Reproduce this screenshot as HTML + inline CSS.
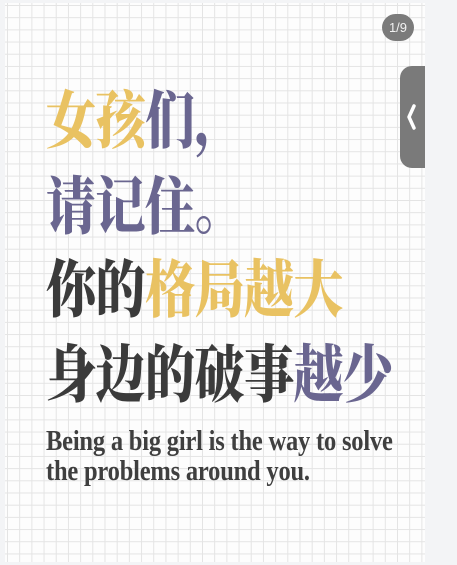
<!DOCTYPE html>
<html><head><meta charset="utf-8"><style>
html,body{margin:0;padding:0;width:457px;height:565px;overflow:hidden;background:#f3f4f6;}
#card{position:absolute;left:5px;top:3px;width:420px;height:559px;background-color:#fdfdfd;
background-image:linear-gradient(#e4e4e4 1px,transparent 1px),linear-gradient(90deg,#e4e4e4 1px,transparent 1px);
background-size:12.2px 12.2px;background-position:2px 2px;}
.l{position:absolute;left:41px;font-family:"Liberation Serif","Noto Serif CJK SC",serif;font-weight:900;font-size:50px;line-height:1;white-space:nowrap;letter-spacing:-0.5px;transform:scaleY(1.25);transform-origin:0 0}
.y{color:#e9c262}.p{color:#6a6690}.d{color:#3b3b3b}
.en{position:absolute;left:41px;font-family:"Liberation Serif",serif;font-weight:bold;font-size:24.5px;color:#3f3f3f;line-height:26px;white-space:nowrap;letter-spacing:-0.2px;transform:scaleY(1.15);transform-origin:0 0}
#badge{position:absolute;left:382px;top:14px;width:32px;height:27px;border-radius:14px;background:#7b7b7b;color:#f2f2f2;font:13px "Liberation Sans",sans-serif;text-align:center;line-height:27px}
#tab{position:absolute;left:400px;top:66px;width:25px;height:102px;background:#7a7a7a;border-radius:12px 0 0 12px}
</style></head><body>
<div id="card">
<div class="l" style="top:87px"><span class="y">女孩</span><span class="p">们，</span></div>
<div class="l p" style="top:173px">请记住。</div>
<div class="l" style="top:256px"><span class="d">你的</span><span class="y">格局越大</span></div>
<div class="l" style="top:341px"><span class="d">身边的破事</span><span class="p">越少</span></div>
<div class="en" style="top:424px">Being a big girl is the way to solve<br>the problems around you.</div>
</div>
<div id="badge">1/9</div>
<div id="tab"><svg width="25" height="102"><path d="M14 40 L9 51 L14 62" stroke="#fff" stroke-width="3.5" fill="none" stroke-linecap="round" stroke-linejoin="round"/></svg></div>
</body></html>
